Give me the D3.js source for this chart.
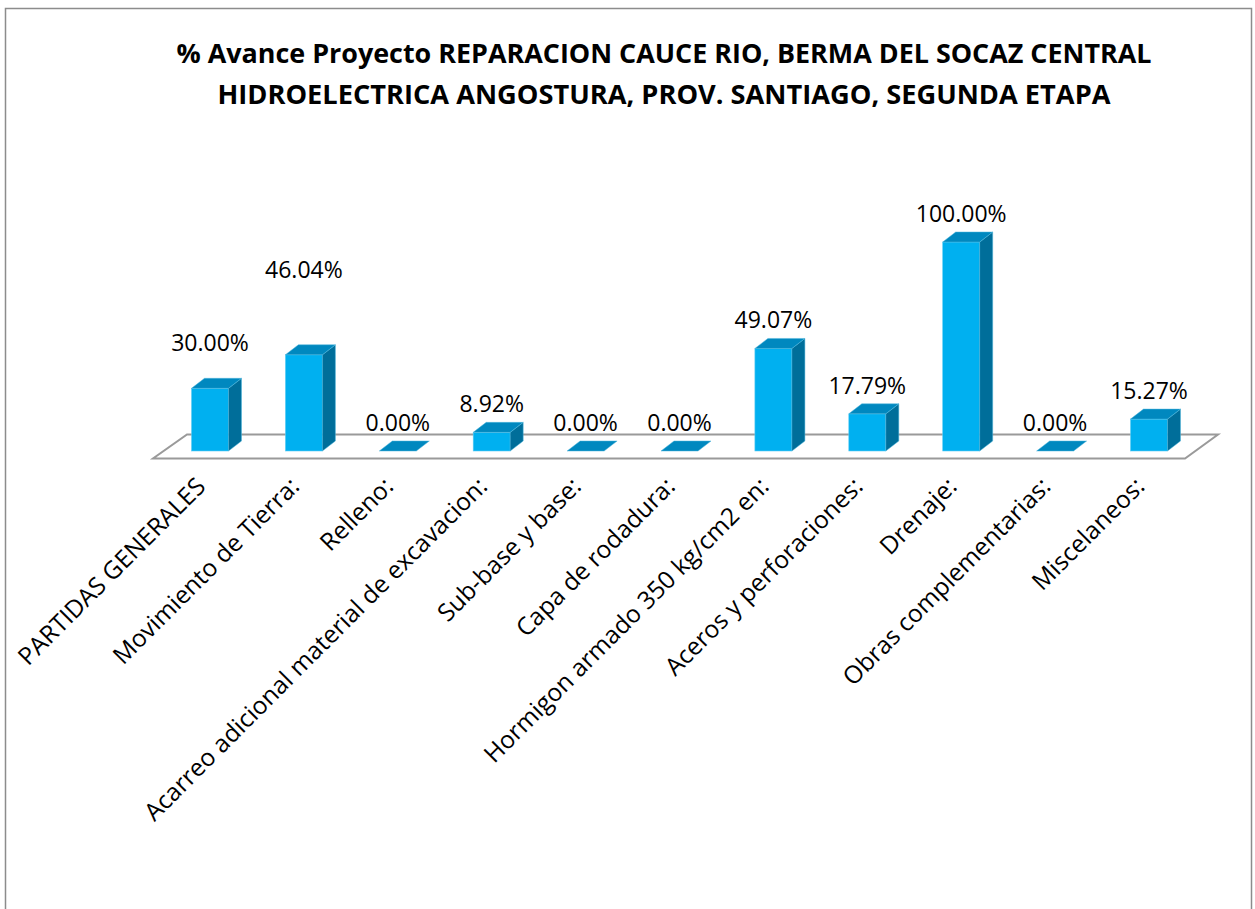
<!DOCTYPE html>
<html>
<head>
<meta charset="utf-8">
<script src="https://cdn.jsdelivr.net/npm/d3@7"></script>
<style>
  html, body { margin: 0; padding: 0; background: #fff; }
  svg { display: block; }
</style>
</head>
<body>
<div id="chart"></div>
<script>
// 3D column chart — % avance por partida

const categories = [
  'PARTIDAS GENERALES',
  'Movimiento de Tierra:',
  'Relleno:',
  'Acarreo adicional material de excavacion:',
  'Sub-base y base:',
  'Capa de rodadura:',
  'Hormigon armado 350 kg/cm2 en:',
  'Aceros y perforaciones:',
  'Drenaje:',
  'Obras complementarias:',
  'Miscelaneos:'
];
const values = [30.00, 46.04, 0.00, 8.92, 0.00, 0.00, 49.07, 17.79, 100.00, 0.00, 15.27];
const titleLines = [
  '% Avance Proyecto REPARACION CAUCE RIO, BERMA DEL SOCAZ CENTRAL',
  'HIDROELECTRICA ANGOSTURA, PROV. SANTIAGO, SEGUNDA ETAPA'
];

// labels that were dragged higher in the original
const labelLift = { 'PARTIDAS GENERALES': 17, 'Movimiento de Tierra:': 57 };

const W = 1255, H = 909;
const FRONT = '#00B0F0', TOP = '#0088BF', SIDE = '#006E9A';
const dx = 13, dy = 10;       // bar depth offset
const barW = 37;
const base = 451;             // bar front bottom

const svg = d3.select('#chart').append('svg')
  .attr('width', W).attr('height', H);

svg.append('rect')
  .attr('x', 5.5).attr('y', 8.5)
  .attr('width', 1246).attr('height', 940)
  .attr('fill', '#fff')
  .attr('stroke', '#8c8c8c')
  .attr('stroke-width', 1.5);

// title
const title = svg.append('g');
[[63, 975], [104, 893]].forEach(([ty, len], i) => {
  title.append('text')
    .attr('x', 664).attr('y', ty)
    .attr('text-anchor', 'middle')
    .attr('font-family', '"Open Sans", sans-serif')
    .attr('font-weight', 700)
    .attr('font-size', 27)
    .attr('textLength', len)
    .attr('lengthAdjust', 'spacingAndGlyphs')
    .attr('fill', '#000')
    .text(titleLines[i]);
});

const x = d3.scalePoint().domain(categories).range([210, 1149]);
const y = d3.scaleLinear().domain([0, 100]).range([base, 242]);

// floor
const fl = x(categories[0]) - 57, fr = x(categories[categories.length - 1]) + 36;
svg.append('path')
  .attr('d', `M${fl},458.5 L${fr},458.5 L${fr + 33},434.5 L${fl + 34},434.5 Z`)
  .attr('fill', '#fff')
  .attr('stroke', '#9a9a9a')
  .attr('stroke-width', 2);

const bars = svg.append('g');
categories.forEach((c, i) => {
  const v = values[i];
  const x0 = x(c) - barW / 2, x1 = x0 + barW;
  const yt = y(v);
  const g = bars.append('g');
  if (v > 0) {
    g.append('rect')
      .attr('x', x0).attr('y', yt)
      .attr('width', barW).attr('height', base - yt)
      .attr('fill', FRONT)
      .attr('stroke', '#5fcdf3').attr('stroke-width', 0.6);
    g.append('path')
      .attr('d', `M${x1},${yt} L${x1 + dx},${yt - dy} L${x1 + dx},${base - dy} L${x1},${base} Z`)
      .attr('fill', SIDE)
      .attr('stroke', '#4fb6dc').attr('stroke-width', 0.5);
  }
  g.append('path')
    .attr('d', `M${x0},${yt} L${x0 + dx},${yt - dy} L${x1 + dx},${yt - dy} L${x1},${yt} Z`)
    .attr('fill', TOP)
    .attr('stroke', '#4fb6dc').attr('stroke-width', 0.5);
});

// value labels
svg.append('g').selectAll('text')
  .data(categories)
  .join('text')
  .attr('x', d => x(d))
  .attr('y', (d, i) => y(values[i]) - 20 - (labelLift[d] || 0))
  .attr('text-anchor', 'middle')
  .attr('font-family', '"Open Sans", sans-serif')
  .attr('font-size', 23)
  .attr('fill', '#000')
  .text((d, i) => values[i].toFixed(2) + '%');

// category labels, rotated
svg.append('g').selectAll('text')
  .data(categories)
  .join('text')
  .attr('transform', d => `translate(${x(d) - 3},488) rotate(-45)`)
  .attr('text-anchor', 'end')
  .attr('font-family', '"Open Sans", sans-serif')
  .attr('font-size', 24.5)
  .attr('fill', '#000')
  .text(d => d);
</script>
</body>
</html>
